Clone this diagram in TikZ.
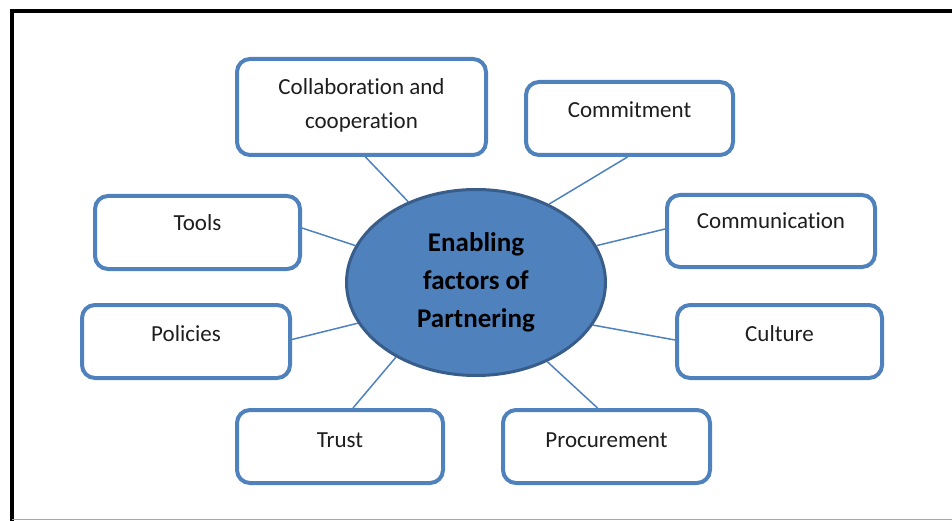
\documentclass[tikz,border=0pt]{standalone}
\usepackage{fontspec}
\setmainfont{Carlito}[Ligatures=NoCommon]
\usetikzlibrary{shapes.geometric,backgrounds}
\definecolor{boxblue}{HTML}{4F81BD}
\definecolor{rimblue}{HTML}{385D8A}
\definecolor{inktext}{HTML}{1E1E1E}
\tikzset{
  factor/.style={draw=boxblue, line width=4pt, rounded corners=13pt, fill=white,
    minimum width=207pt, inner xsep=0pt, inner ysep=0pt,
    text height=36pt, text depth=37pt, text=inktext,
    font=\fontsize{23}{34}\selectfont},
  hub/.style={ellipse, draw=rimblue, line width=3pt, fill=boxblue,
    minimum width=259pt, minimum height=186pt, inner sep=0pt, align=center,
    font=\fontsize{27}{38}\selectfont\bfseries, text=black},
  link/.style={draw=boxblue, line width=1.5pt}
}
\begin{document}
\begin{tikzpicture}[x=1pt,y=-1pt]
\useasboundingbox (0,0) rectangle (952,521);
% outer frame
\draw[black, line width=4pt] (11.5,521) -- (11.5,11) -- (952,11);
\draw[gray!70, line width=1pt] (12,519.5) -- (952,519.5);

% centre
\node[hub] (hub) at (476,282.5) {Enabling\\factors of\\Partnering};

% factor boxes
\node[factor, minimum width=249pt, align=center, text height=70pt, text depth=26pt]
  (collab) at (361.5,107) {Collaboration and\\cooperation};
\node[factor] (commit) at (629.5,118.5) {Commitment};
\node[factor, minimum width=205pt, text height=34.5pt, text depth=38.5pt] (tools) at (197.5,232.5) {Tools};
\node[factor, minimum width=208pt, text height=34pt, text depth=38pt] (comm) at (771,231) {Communication};
\node[factor, minimum width=208pt] (pol) at (186,341.5) {Policies};
\node[factor, minimum width=205pt] (cult) at (779.5,341.5) {Culture};
\node[factor, minimum width=206pt, text height=37.5pt, text depth=35.5pt] (trust) at (340,446.5) {Trust};
\node[factor, text height=37.5pt, text depth=35.5pt] (proc) at (606.5,446.5) {Procurement};

% spokes
\begin{scope}[on background layer]
\draw[link] ([xshift=4pt]collab.south) -- (hub.130.6);
\draw[link] ([xshift=-2pt]commit.south) -- (hub.47);
\draw[link] ([yshift=4.5pt]tools.east) -- (hub.163.4);
\draw[link] ([yshift=2pt]comm.west) -- (hub.17.8);
\draw[link] ([yshift=2pt]pol.east) -- (hub.199.5);
\draw[link] ([yshift=1.5pt]cult.west) -- (hub.340.6);
\draw[link] ([xshift=13pt]trust.north) -- (hub.223);
\draw[link] ([xshift=-9pt]proc.north) -- (hub.312.3);
\end{scope}
\end{tikzpicture}
\end{document}
